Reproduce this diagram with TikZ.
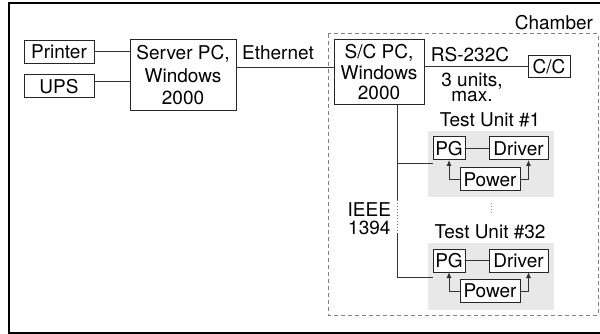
\documentclass[tikz,border=0pt]{standalone}
\usepackage{fontspec}
\setmainfont{TeX Gyre Heros}
\usetikzlibrary{arrows.meta}

\begin{document}
\begin{tikzpicture}[x=1pt,y=-1pt,
  every node/.style={font=\fontsize{19}{22.5}\selectfont, inner sep=0pt, outer sep=0pt},
  box/.style={draw=black!85, line width=1pt, fill=white},
  wire/.style={draw=black!80, line width=1pt},
  feed/.style={wire, -{Latex[length=6pt,width=5pt]}}]
\clip (0,0) rectangle (600,334);
\fill[white] (0,0) rectangle (600,334);
\draw[line width=1.3pt] (9,3) rectangle (620,333);

% chamber outline
\draw[black!50, line width=1pt, dash pattern=on 4pt off 3pt] (328,34) rectangle (598,315);
\node[anchor=east] (chamber) at (593,23) {Chamber};

% server side
\node[box, minimum width=70, minimum height=23] (printer) at (59,52) {Printer};
\node[box, minimum width=70, minimum height=23] (ups) at (59,86.5) {UPS};
\node[box, minimum width=106, minimum height=71, align=center] (server) at (183,75.5) {Server PC,\\Windows\\2000};
\node (ether) at (278,53) {Ethernet};

% inside the chamber
\node[box, minimum width=90, minimum height=65, align=center, font=\fontsize{19}{20.5}\selectfont] (sc) at (379,72.5) {S/C PC,\\Windows\\2000};
\node (rs) at (470,55) {RS-232C};
\node[box, minimum width=42, minimum height=22] (cc) at (549,67) {C/C};
\node[align=center, font=\fontsize{19}{15.5}\selectfont] (units) at (472,87.5) {3 units,\\max.};
\node[align=center, anchor=east, font=\fontsize{19}{17.5}\selectfont] (ieee) at (391,218.5) {IEEE\\1394};

\coordinate (upsout) at ([yshift=5pt]ups.east);
\coordinate (lan) at ([yshift=7.5pt]server.east);
\draw[wire] (printer.east) -- (printer.east -| server.west);
\draw[wire] (upsout) -- (upsout -| server.west);
\draw[wire] (lan) -- (lan -| sc.west);
\draw[wire] (cc.west -| sc.east) -- (cc.west);

% test unit #1
\fill[black!9] (428,131) rectangle (554,197);
\node (title1) at (490,120) {Test Unit \#1};
\node[box, minimum width=32, minimum height=23] (pg1) at (449,148.5) {PG};
\node[box, minimum width=59, minimum height=23] (drv1) at (518.5,148.5) {Driver};
\node[box, minimum width=60, minimum height=23] (pwr1) at (490,179.5) {Power};
\draw[wire] (pg1) -- (drv1);
\draw[feed] (pwr1.west) -| (pg1.south);
\draw[feed] (pwr1.east) -| ([xshift=10pt]drv1.south);

% test unit #32
\fill[black!9] (428,243) rectangle (554,310);
\node (title32) at (490,232) {Test Unit \#32};
\node[box, minimum width=32, minimum height=23] (pg32) at (449,260.5) {PG};
\node[box, minimum width=59, minimum height=23] (drv32) at (518.5,260.5) {Driver};
\node[box, minimum width=60, minimum height=23] (pwr32) at (490,291) {Power};
\draw[wire] (pg32) -- (drv32);
\draw[feed] (pwr32.west) -| (pg32.south);
\draw[feed] (pwr32.east) -| ([xshift=10pt]drv32.south);

% 1394 bus
\coordinate (busA) at (397,200);
\coordinate (busB) at (397,233);
\coordinate (tap1) at (433,164);
\coordinate (tap32) at (433,277);
\draw[wire] (sc.south -| busA) -- (busA);
\draw[black!55, line width=1pt, dotted] (busA) -- (busB);
\draw[wire] (busB) |- (tap32);
\draw[wire] (tap1 -| busA) -- (tap1);
\draw[black!45, line width=1pt, dotted] (491,203) -- (491,214);
\end{tikzpicture}
\end{document}
